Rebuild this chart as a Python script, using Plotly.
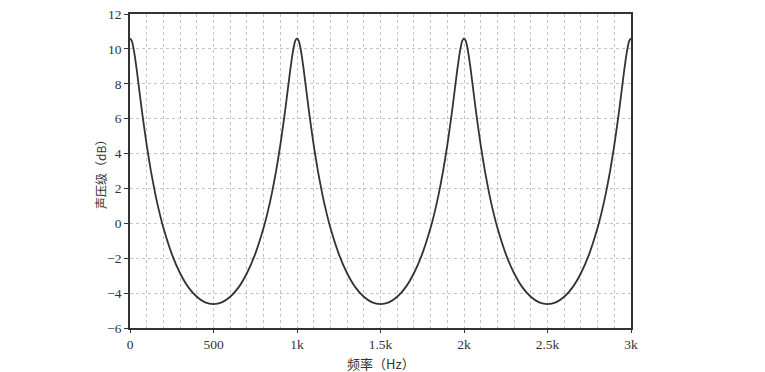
import plotly.graph_objects as go

# Frequency (Hz) and sound pressure level (dB)
freq = [0, 10, 20, 30, 40, 50, 60, 70, 80, 100, 125, 150, 175, 200, 250, 300, 350, 400, 450,
        500, 550, 600, 650, 700, 750, 800, 825, 850, 875, 900, 920, 930, 940, 950, 960, 970, 980, 990,
        1000, 1010, 1020, 1030, 1040, 1050, 1060, 1070, 1080, 1100, 1125, 1150, 1175, 1200, 1250, 1300, 1350, 1400, 1450,
        1500, 1550, 1600, 1650, 1700, 1750, 1800, 1825, 1850, 1875, 1900, 1920, 1930, 1940, 1950, 1960, 1970, 1980, 1990,
        2000, 2010, 2020, 2030, 2040, 2050, 2060, 2070, 2080, 2100, 2125, 2150, 2175, 2200, 2250, 2300, 2350, 2400, 2450,
        2500, 2550, 2600, 2650, 2700, 2750, 2800, 2825, 2850, 2875, 2900, 2920, 2930, 2940, 2950, 2960, 2970, 2980, 2990,
        3000]
spl = [10.60, 10.47, 10.08, 9.51, 8.82, 8.07, 7.30, 6.55, 5.83, 4.48, 3.01, 1.75, 0.67, -0.26, -1.75, -2.86, -3.67, -4.21, -4.53,
       -4.63, -4.53, -4.21, -3.67, -2.86, -1.75, -0.26, 0.67, 1.75, 3.01, 4.48, 5.83, 6.55, 7.30, 8.07, 8.82, 9.51, 10.08, 10.47,
       10.60, 10.47, 10.08, 9.51, 8.82, 8.07, 7.30, 6.55, 5.83, 4.48, 3.01, 1.75, 0.67, -0.26, -1.75, -2.86, -3.67, -4.21, -4.53,
       -4.63, -4.53, -4.21, -3.67, -2.86, -1.75, -0.26, 0.67, 1.75, 3.01, 4.48, 5.83, 6.55, 7.30, 8.07, 8.82, 9.51, 10.08, 10.47,
       10.60, 10.47, 10.08, 9.51, 8.82, 8.07, 7.30, 6.55, 5.83, 4.48, 3.01, 1.75, 0.67, -0.26, -1.75, -2.86, -3.67, -4.21, -4.53,
       -4.63, -4.53, -4.21, -3.67, -2.86, -1.75, -0.26, 0.67, 1.75, 3.01, 4.48, 5.83, 6.55, 7.30, 8.07, 8.82, 9.51, 10.08, 10.47,
       10.60]

x_tickvals = [0, 500, 1000, 1500, 2000, 2500, 3000]
x_ticktext = ["0", "500", "1k", "1.5k", "2k", "2.5k", "3k"]
y_tickvals = [-6, -4, -2, 0, 2, 4, 6, 8, 10, 12]
x_title = "频率（Hz）"
y_title = "声压级（dB）"

serif = "'Liberation Serif', 'Times New Roman', Times, serif"
cjk = "'Noto Sans CJK SC', 'Noto Sans CJK JP', sans-serif"

fig = go.Figure()
fig.add_trace(go.Scatter(
    x=freq, y=spl, mode="lines",
    line=dict(color="#333333", width=1.8, shape="spline", smoothing=0.6),
    showlegend=False, hoverinfo="skip",
))

grid_color = "#c4c4c4"
fig.update_layout(
    width=765, height=372,
    margin=dict(l=130, r=134, t=14, b=44),
    paper_bgcolor="white", plot_bgcolor="white",
    font=dict(family=serif, size=13.5, color="#333333"),
    xaxis=dict(
        range=[0, 3000], tickvals=x_tickvals, ticktext=x_ticktext,
        showgrid=True, gridcolor=grid_color, griddash="dot", gridwidth=1,
        minor=dict(dtick=100, showgrid=True, gridcolor=grid_color, griddash="dot", gridwidth=1),
        showline=True, linecolor="#333333", linewidth=1.5, mirror=True,
        ticks="outside", ticklen=3, tickcolor="#333333",
        zeroline=False, automargin=False,
    ),
    yaxis=dict(
        range=[-6, 12], tickvals=y_tickvals,
        showgrid=True, gridcolor=grid_color, griddash="dot", gridwidth=1,
        showline=True, linecolor="#333333", linewidth=1.5, mirror=True,
        ticks="outside", ticklen=4, tickcolor="#333333",
        zeroline=False, automargin=False,
    ),
    annotations=[
        dict(text=x_title, xref="paper", yref="paper", x=0.5, y=-0.112,
             xanchor="center", yanchor="middle", showarrow=False,
             font=dict(family=cjk, size=13, color="#333333")),
        dict(text=y_title, xref="paper", yref="paper", x=-0.06, y=0.5,
             xanchor="center", yanchor="middle", showarrow=False, textangle=-90,
             font=dict(family=cjk, size=12, color="#333333")),
    ],
)

fig.write_html("out.html", post_script="document.body.style.margin='0';",
               config={"displayModeBar": False})
